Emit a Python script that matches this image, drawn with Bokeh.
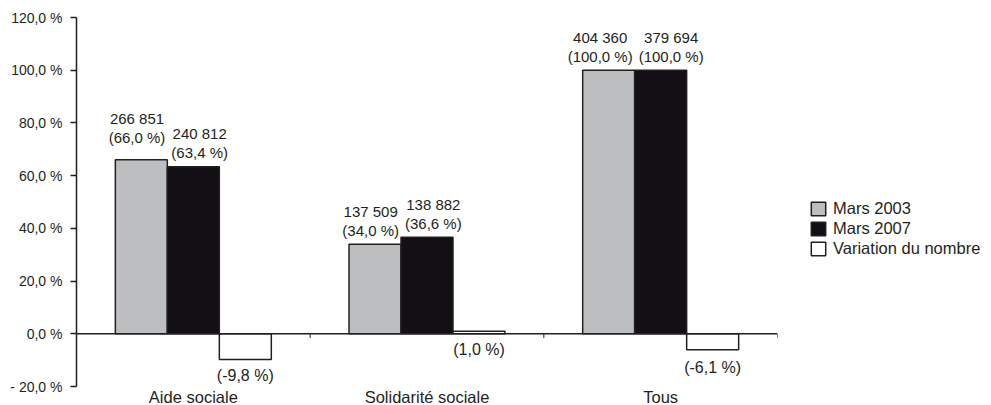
from bokeh.plotting import figure
from bokeh.models import ColumnDataSource, FixedTicker, Legend, LegendItem, Span
from bokeh.transform import dodge
from bokeh.core.properties import value
from bokeh.embed import file_html
from bokeh.resources import INLINE

# ---- data ----
categories = ["Aide sociale", "Solidarité sociale", "Tous"]
series = ["Mars 2003", "Mars 2007", "Variation du nombre"]
count_2003 = [266851, 137509, 404360]
share_2003 = [66.0, 34.0, 100.0]
count_2007 = [240812, 138882, 379694]
share_2007 = [63.4, 36.6, 100.0]
variation = [-9.8, 1.0, -6.1]
y_ticks = [-20, 0, 20, 40, 60, 80, 100, 120]
y_tick_labels = ["- 20,0 %", "0,0 %", "20,0 %", "40,0 %", "60,0 %", "80,0 %", "100,0 %", "120,0 %"]

# ---- styles ----
FONT = "Liberation Sans"
INK = "#231f20"
GRAY = "#bcbec0"
BLACK = "#121014"
VAL_SIZE = 15
BW = 0.2225

CHAR_W = {d: 0.556 for d in "0123456789"}
CHAR_W.update({" ": 0.278, ",": 0.278, "(": 0.333, ")": 0.333, "%": 0.889, "-": 0.333})


def text_w(s, size):
    return sum(CHAR_W.get(c, 0.556) for c in s) * size


def fr_count(v):
    return f"{v:,}".replace(",", " ")


def fr_pct(v):
    return "(" + f"{v:.1f}".replace(".", ",") + " %)"


n = len(categories)
centers = [i + 0.5 for i in range(n)]

cnt03 = [fr_count(v) for v in count_2003]
pct03 = [fr_pct(v) for v in share_2003]
cnt07 = [fr_count(v) for v in count_2007]
pct07 = [fr_pct(v) for v in share_2007]
blk03 = [max(text_w(a, VAL_SIZE), text_w(b, VAL_SIZE)) for a, b in zip(cnt03, pct03)]
blk07 = [max(text_w(a, VAL_SIZE), text_w(b, VAL_SIZE)) for a, b in zip(cnt07, pct07)]
lift03 = [8 if 0 < a - b < 5 else 0 for a, b in zip(share_2003, share_2007)]

src = ColumnDataSource(dict(
    x=centers,
    s03=share_2003,
    s07=share_2007,
    var=variation,
    var_anchor=[min(v, 0) for v in variation],
    cnt03=cnt03, pct03=pct03, cnt07=cnt07, pct07=pct07,
    var_txt=[fr_pct(v) for v in variation],
    xo03=[-2 - w / 2 for w in blk03],
    xo07=[4 + w / 2 for w in blk07],
    yo03p=[-14 - l for l in lift03],
    yo03c=[-33 - l for l in lift03],
    yov=[16 if v >= -8 and v < 0 and False else (18 if -8 < v < 0 else 16) for v in variation],
))

p = figure(
    frame_width=701, frame_height=369,
    x_range=(0, n), y_range=(-20, 120),
    output_backend="svg", toolbar_location=None,
    min_border_left=76, min_border_top=17, min_border_bottom=19, min_border_right=214,
    background_fill_color="white", border_fill_color="white",
)
p.outline_line_color = None
p.xgrid.grid_line_color = None
p.ygrid.grid_line_color = None

# bars
r03 = p.vbar(x=dodge("x", -BW, range=None), top="s03", bottom=0, width=BW, source=src,
             fill_color=GRAY, line_color=INK, line_width=1.5)
r07 = p.vbar(x="x", top="s07", bottom=0, width=BW, source=src,
             fill_color=BLACK, line_color=INK, line_width=1.5)
rv = p.vbar(x=dodge("x", BW), top="var", bottom=0, width=BW, source=src,
            fill_color="white", line_color=INK, line_width=1.5)

# zero line + category boundary ticks
p.add_layout(Span(location=0, dimension="width", line_color=INK, line_width=1.5))
bounds = [float(i) for i in range(1, n + 1)]
p.segment(x0=bounds, y0=[0] * n, x1=bounds, y1=[-1.6] * n, line_color=INK, line_width=1)

# value labels
common = dict(text_font=value(FONT), text_font_size=f"{VAL_SIZE}px", text_color=INK,
              text_align="center", text_baseline="middle", source=src)
p.text(x=dodge("x", -BW / 2), y="s03", text="pct03", x_offset="xo03", y_offset="yo03p", **common)
p.text(x=dodge("x", -BW / 2), y="s03", text="cnt03", x_offset="xo03", y_offset="yo03c", **common)
p.text(x=dodge("x", -BW / 2), y="s07", text="pct07", x_offset="xo07", y_offset=-14, **common)
p.text(x=dodge("x", -BW / 2), y="s07", text="cnt07", x_offset="xo07", y_offset=-33, **common)
p.text(x=dodge("x", BW), y="var_anchor", text="var_txt", y_offset="yov",
       text_font=value(FONT), text_font_size="16px", text_color=INK,
       text_align="center", text_baseline="middle", source=src)

# axes
p.yaxis.ticker = FixedTicker(ticks=y_ticks)
p.yaxis.major_label_overrides = {t: lab for t, lab in zip(y_ticks, y_tick_labels)}
p.yaxis.axis_line_color = INK
p.yaxis.axis_line_width = 1.5
p.yaxis.major_tick_line_color = INK
p.yaxis.major_tick_line_width = 1.5
p.yaxis.major_tick_out = 6
p.yaxis.major_tick_in = 0
p.yaxis.minor_tick_line_color = None
p.yaxis.major_label_standoff = 8
p.yaxis.major_label_text_font = FONT
p.yaxis.major_label_text_font_size = "14px"
p.yaxis.major_label_text_color = INK

p.xaxis.ticker = FixedTicker(ticks=centers)
p.xaxis.major_label_overrides = {c: lab for c, lab in zip(centers, categories)}
p.xaxis.axis_line_color = None
p.xaxis.major_tick_line_color = None
p.xaxis.minor_tick_line_color = None
p.xaxis.major_tick_out = 0
p.xaxis.major_tick_in = 0
p.xaxis.major_label_standoff = 1
p.xaxis.major_label_text_font = FONT
p.xaxis.major_label_text_font_size = "16.5px"
p.xaxis.major_label_text_color = INK

# legend (outside the frame, on the right)
legend = Legend(
    items=[LegendItem(label=series[0], renderers=[r03]),
           LegendItem(label=series[1], renderers=[r07]),
           LegendItem(label=series[2], renderers=[rv])],
    location=(32, 128), padding=0, margin=0, spacing=0,
    glyph_width=18, glyph_height=17, label_standoff=6, label_height=20,
    label_text_font=FONT, label_text_font_size="16.5px", label_text_color=INK,
    border_line_color=None, background_fill_alpha=0,
)
p.add_layout(legend, "right")

open("out.html", "w").write(file_html(p, INLINE))
